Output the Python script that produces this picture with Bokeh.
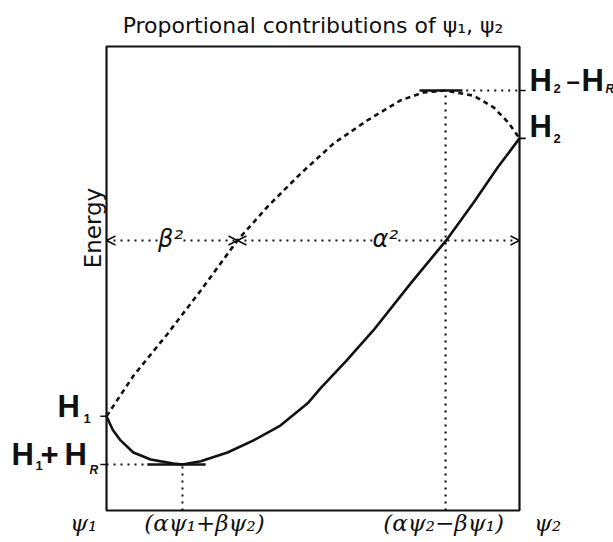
from math import pi

from bokeh.embed import file_html
from bokeh.models import Arrow, Label, OpenHead
from bokeh.plotting import figure
from bokeh.resources import INLINE

# Horizontal axis: share of psi_2 in the wave function (0 = pure psi_1, 100 = pure psi_2)
# Vertical axis: energy, arbitrary units
solid_x = [0, 1.5, 3.4, 6.5, 10.7, 16.2, 18.4, 22.8, 29.3, 35.6, 42.1, 48.7, 51.8,
           58.0, 64.6, 73.6, 82.6, 88.9, 94.7, 100]
solid_y = [20.3, 17.4, 15.1, 12.5, 11.0, 10.1, 9.9, 10.6, 12.5, 15.1, 18.3, 23.1, 26.3,
           32.2, 38.8, 48.9, 58.6, 66.4, 73.9, 80.2]

dashed_x = [0, 6.5, 14.8, 22.8, 31.7, 39.0, 47.0, 55.0, 63.2, 71.2, 76.8, 82.1,
            88.9, 93.7, 97.3, 100]
dashed_y = [20.3, 29.0, 38.1, 47.4, 58.2, 65.5, 72.6, 79.1, 84.1, 88.4, 90.1, 90.5,
            89.4, 86.9, 83.6, 80.2]

# Characteristic energies
H1 = 20.3
H1_HR = 9.9
H2 = 80.2
H2_HR = 90.5

# Mixing positions of the extrema
X_MIN = 18.4
X_MAX = 82.1

# Level of the beta^2 / alpha^2 construction line and where it is split
SPLIT_LEVEL = 58.2
SPLIT_X = 31.7

title_text = "Proportional contributions of ψ₁, ψ₂"
y_label = "Energy"
bottom_labels = ["ψ₁", "(αψ₁+βψ₂)", "(αψ₂−βψ₁)", "ψ₂"]

INK = "#111111"

# The diagram box spans 0..100 in both directions; the canvas leaves room
# around it for the labels, so everything is drawn inside the plot frame.
p = figure(width=613, height=542, output_backend="svg", toolbar_location=None,
           x_range=(-25.67, 122.76), y_range=(-6.90, 109.91),
           x_axis_location=None, y_axis_location=None,
           min_border=0)
p.grid.visible = False
p.outline_line_color = None
p.background_fill_color = "white"
p.border_fill_color = "white"

# Diagram box
p.quad(left=[0], right=[100], bottom=[0], top=[100], fill_color=None,
       line_color=INK, line_width=2.2)

# Construction lines (dotted)
DOT = "2 5"
p.line([0, X_MIN - 8], [H1_HR, H1_HR], line_color=INK, line_width=2, line_dash=DOT)
p.line([X_MIN, X_MIN], [0, H1_HR], line_color=INK, line_width=2, line_dash=DOT)
p.line([X_MAX + 5, 100], [H2_HR, H2_HR], line_color=INK, line_width=2, line_dash=DOT)
p.line([X_MAX, X_MAX], [0, H2_HR], line_color=INK, line_width=2.2, line_dash=DOT)

# Energy curves
p.line(dashed_x, dashed_y, line_color=INK, line_width=2.6, line_dash="5 4")
p.line(solid_x, solid_y, line_color=INK, line_width=2.6, line_join="round")

# Horizontal tangents at the extrema
p.segment(x0=[X_MIN - 8.5, X_MAX - 6.3], y0=[H1_HR, H2_HR],
          x1=[X_MIN + 5.6, X_MAX + 4.1], y1=[H1_HR, H2_HR],
          line_color=INK, line_width=2.6)

# beta^2 and alpha^2 double arrows
for xa, xb in [(0, SPLIT_X), (SPLIT_X, 100)]:
    p.add_layout(Arrow(x_start=xa, y_start=SPLIT_LEVEL, x_end=xb, y_end=SPLIT_LEVEL,
                       line_color=INK, line_width=2, line_dash=DOT,
                       start=OpenHead(size=9, line_width=1.6, line_color=INK),
                       end=OpenHead(size=9, line_width=1.6, line_color=INK)))

# Tick marks at the named energies
p.segment(x0=[-1.5, -1.5, 100, 100], y0=[H1, H1_HR, H2, H2_HR],
          x1=[0, 0, 101.5, 101.5], y1=[H1, H1_HR, H2, H2_HR],
          line_color=INK, line_width=1.6)


def text(x, y, s, dx=0, dy=0, size=20, font="Liberation Sans", style="normal",
         align="left", angle=0.0, bg=None):
    p.add_layout(Label(x=x, y=y, text=s, x_offset=dx, y_offset=dy,
                       text_font=font, text_font_size=f"{size}px",
                       text_font_style=style, text_color=INK,
                       text_align=align, text_baseline="middle", angle=angle,
                       background_fill_color=bg))


HF = 31   # size of the H symbols
SF = 13   # size of their subscripts

# Left energy labels
text(0, H1, "H", dx=-49, dy=10, size=HF, style="bold")
text(0, H1, "1", dx=-23, dy=-2, size=SF, style="bold")
text(0, H1_HR, "H", dx=-95, dy=10.5, size=HF, style="bold")
text(0, H1_HR, "1", dx=-71, dy=-1, size=SF, style="bold")
text(0, H1_HR, "+", dx=-66, dy=11, size=HF, style="bold")
text(0, H1_HR, "H", dx=-42, dy=10.5, size=HF, style="bold")
text(0, H1_HR, "R", dx=-17, dy=-5, size=12, style="bold italic")

# Right energy labels
text(100, H2_HR, "H", dx=10, dy=10, size=HF, style="bold")
text(100, H2_HR, "2", dx=34, dy=2, size=SF, style="bold")
text(100, H2_HR, "–", dx=47, dy=10, size=24, style="bold")
text(100, H2_HR, "H", dx=62, dy=10, size=HF, style="bold")
text(100, H2_HR, "R", dx=86, dy=2, size=12, style="bold italic")
text(100, H2, "H", dx=10, dy=11.5, size=HF, style="bold")
text(100, H2, "2", dx=34, dy=0, size=SF, style="bold")

# beta^2 / alpha^2 labels sit over the dotted line
text(15.5, SPLIT_LEVEL, "β²", dy=1, size=24, style="italic", align="center",
     font="DejaVu Sans", bg="white")
text(67.5, SPLIT_LEVEL, "α²", dy=1, size=24, style="italic", align="center",
     font="DejaVu Sans", bg="white")

# Composition labels below the box
for xx, dx, s in zip([0, X_MIN, X_MAX, 100], [-23, 22, -2, 28], bottom_labels):
    text(xx, 0, s, dx=dx, dy=-13, size=23, font="DejaVu Serif", style="italic",
         align="center")

# Axis title and heading
text(0, 60, y_label, dx=-14, dy=4, size=23, font="DejaVu Sans", align="center",
     angle=pi / 2)
text(50, 100, title_text, dy=21, size=22, font="DejaVu Sans", align="center")

open("out.html", "w").write(file_html(p, INLINE))
